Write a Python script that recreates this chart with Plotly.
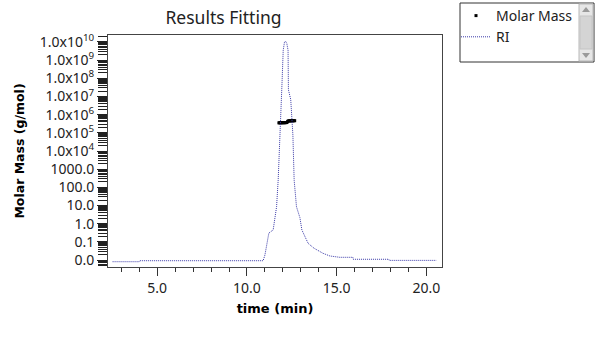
import plotly.graph_objects as go

# ---------------- data ----------------
time_ri = [2.51, 3.99, 4.01, 10.90, 11.00, 11.15, 11.22, 11.46, 11.65, 11.74, 11.87,
           11.96, 12.02, 12.09, 12.15, 12.22, 12.29, 12.31, 12.44, 12.52, 12.56, 12.63,
           12.76, 12.95, 13.06, 13.41, 13.74, 14.24, 14.62, 15.17, 15.90, 15.92, 17.91,
           17.93, 20.56]
ri_signal = [0.0, 0.0, 0.0045, 0.0045, 0.030, 0.098, 0.130, 0.144, 0.249, 0.370, 0.597,
             0.823, 0.959, 0.995, 1.0, 0.99, 0.959, 0.78, 0.735, 0.642, 0.574, 0.370,
             0.249, 0.200, 0.144, 0.083, 0.061, 0.038, 0.026, 0.020, 0.020, 0.011, 0.011,
             0.006, 0.006]

time_mm = [11.78, 11.82, 11.86, 11.90, 11.94, 11.98, 12.02, 12.06, 12.10, 12.14, 12.18,
           12.22, 12.26, 12.30, 12.34, 12.38, 12.42, 12.46, 12.50, 12.54, 12.58, 12.62, 12.66]
molar_mass = [3.55e5, 3.57e5, 3.58e5, 3.60e5, 3.60e5, 3.61e5, 3.62e5, 3.62e5, 3.63e5, 3.64e5,
              3.65e5, 3.70e5, 4.10e5, 4.50e5, 4.55e5, 4.58e5, 4.60e5, 4.60e5, 4.62e5, 4.63e5,
              4.64e5, 4.65e5, 4.66e5]

y_tickvals = [1e-2, 1e-1, 1e0, 1e1, 1e2, 1e3, 1e4, 1e5, 1e6, 1e7, 1e8, 1e9, 1e10]
y_ticktext = ["0.0", "0.1", "1.0", "10.0", "100.0", "1000.0",
              "1.0x10<sup>4</sup>", "1.0x10<sup>5</sup>", "1.0x10<sup>6</sup>",
              "1.0x10<sup>7</sup>", "1.0x10<sup>8</sup>", "1.0x10<sup>9</sup>",
              "1.0x10<sup>10</sup>"]
x_tickvals = [5, 10, 15, 20]
x_ticktext = ["5.0", "10.0", "15.0", "20.0"]

# ---------------- layout geometry (pixels) ----------------
W, H = 600, 361
ML, MR, MT, MB = 108, 158, 35, 94
PW, PH = W - ML - MR, H - MT - MB


def px(x):
    return (x - ML) / PW


def py(y):
    return (H - MB - y) / PH


# ---------------- figure ----------------
fig = go.Figure()
fig.add_trace(go.Scatter(
    x=time_mm, y=molar_mass, name="Molar Mass", mode="markers",
    marker=dict(symbol="square", size=3, color="black", line=dict(width=0)),
    yaxis="y"))
fig.add_trace(go.Scatter(
    x=time_ri, y=ri_signal, name="RI", mode="lines",
    line=dict(color="#3a3aa8", width=1, dash="1px,1px"),
    yaxis="y2"))

tickfont = dict(family="Noto Sans", size=14, color="#222")

# legend frame + scrollbar decoration
shapes = [
    dict(type="rect", xref="paper", yref="paper", x0=px(460), x1=px(594),
         y0=py(62), y1=py(3), fillcolor="rgba(0,0,0,0)",
         line=dict(color="#333", width=1), layer="above"),
    dict(type="rect", xref="paper", yref="paper", x0=px(579), x1=px(593),
         y0=py(61), y1=py(4), fillcolor="#e6e6e6", line=dict(color="#b8b8b8", width=1),
         layer="above"),
    dict(type="rect", xref="paper", yref="paper", x0=px(580), x1=px(592),
         y0=py(16), y1=py(49), fillcolor="#d4d4d4", line=dict(color="#c4c4c4", width=1),
         layer="above"),
    dict(type="path", xref="paper", yref="paper",
         path=f"M {px(582)} {py(12)} L {px(590)} {py(12)} L {px(586)} {py(7)} Z",
         fillcolor="#9a9a9a", line=dict(width=0), layer="above"),
    dict(type="path", xref="paper", yref="paper",
         path=f"M {px(582)} {py(53)} L {px(590)} {py(53)} L {px(586)} {py(58)} Z",
         fillcolor="#9a9a9a", line=dict(width=0), layer="above"),
]

fig.update_layout(
    width=W, height=H,
    margin=dict(l=ML, r=MR, t=MT, b=MB, autoexpand=False),
    paper_bgcolor="white", plot_bgcolor="white",
    title=dict(text="Results Fitting", x=223.5 / W, xanchor="center",
               y=1 - 18 / H, yanchor="middle",
               font=dict(family="Noto Sans", size=17.5, color="#222")),
    xaxis=dict(range=[2.255, 20.87], tickmode="array", tickvals=x_tickvals,
               ticktext=x_ticktext, ticks="outside", ticklen=8, tickcolor="#333",
               showgrid=False, zeroline=False, showline=True, mirror=True,
               linecolor="#444", linewidth=1, tickfont=tickfont, automargin=False,
               minor=dict(dtick=1, ticks="outside", ticklen=4, tickcolor="#333",
                          showgrid=False),
               title=dict(text="<b>time (min)</b>",
                          font=dict(family="DejaVu Sans", size=13, color="black"),
                          standoff=8)),
    yaxis=dict(type="log", range=[-2.385, 10.385], tickmode="array",
               tickvals=y_tickvals, ticktext=y_ticktext, ticks="outside",
               ticklen=10, tickcolor="#222", showgrid=False, zeroline=False,
               showline=True, mirror=True, linecolor="#444", linewidth=1,
               tickfont=tickfont, automargin=False,
               minor=dict(dtick="D1", ticks="outside", ticklen=9, tickcolor="#222",
                          showgrid=False),
               title=dict(text="<b>Molar Mass (g/mol)</b>",
                          font=dict(family="DejaVu Sans", size=12.5, color="black"),
                          standoff=12)),
    yaxis2=dict(overlaying="y", range=[-0.024, 1.028], visible=False),
    showlegend=True,
    legend=dict(xref="container", yref="container", x=456 / W, y=1 + 2 / H,
                xanchor="left", yanchor="top", borderwidth=0,
                bgcolor="rgba(0,0,0,0)",
                font=dict(family="Noto Sans", size=14, color="#222"),
                tracegroupgap=0, itemwidth=30),
    shapes=shapes,
)

fig.write_html("out.html", config={"displayModeBar": False},
               post_script="document.body.style.margin='0';")
